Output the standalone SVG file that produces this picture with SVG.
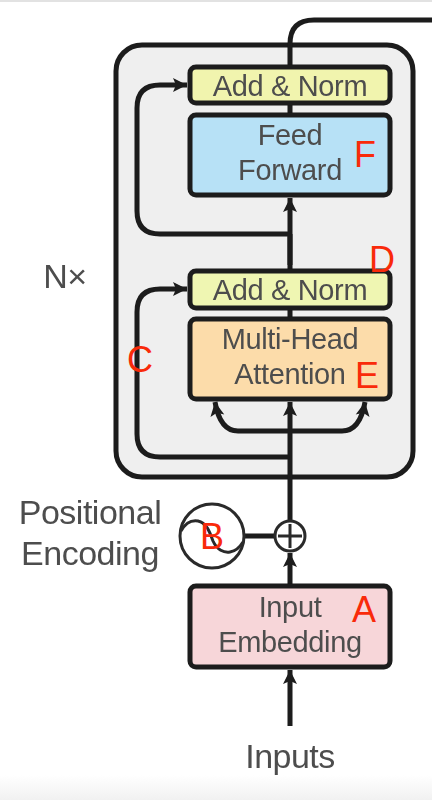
<svg xmlns="http://www.w3.org/2000/svg" width="432" height="800" viewBox="0 0 432 800">
<style>
.box{stroke:#1c1c1c;stroke-width:5}
.ln{fill:none;stroke:#1c1c1c;stroke-width:5}
.thin{fill:none;stroke:#2a2a2a;stroke-width:3}
.t{font-family:"Liberation Sans",Arial,sans-serif;font-size:29px;fill:#4d4d4d;text-anchor:middle;letter-spacing:-.35px}
.o{font-size:34px;letter-spacing:-.5px}
.soft{filter:url(#soft)}
.r{font-family:"Liberation Sans",Arial,sans-serif;font-size:36px;fill:#f92a0a;text-anchor:middle}
</style>
<defs>
<filter id="soft" x="-10%" y="-10%" width="120%" height="120%"><feGaussianBlur stdDeviation="0.7"/></filter>
<marker id="a" markerUnits="userSpaceOnUse" markerWidth="16" markerHeight="16" refX="14" refY="8" orient="auto"><path d="M0 1L14 8L0 15L3 8Z" fill="#1c1c1c"/></marker>
<linearGradient id="fade" x1="0" y1="0" x2="0" y2="1"><stop offset="0" stop-color="#fff"/><stop offset="1" stop-color="#f1f1f1"/></linearGradient>
</defs>
<rect width="432" height="800" fill="#fff"/>
<rect width="432" height="2" fill="#e2e2e2"/>
<rect y="775" width="432" height="25" fill="url(#fade)"/>
<g id="nx-block" class="soft"><rect x="116" y="45" width="297" height="432" rx="26" fill="#efefef" stroke="#1c1c1c" stroke-width="5"/></g>
<g id="connectors" class="soft">
<path class="ln" d="M290 67V44Q290 20 314 20H432"/>
<path class="ln" d="M290 103V115"/>
<path class="ln" marker-end="url(#a)" d="M290 265V198"/>
<path class="ln" d="M290 234V271"/>
<path class="ln" marker-end="url(#a)" d="M290 234H160Q137 234 137 211V108Q137 85 160 85H187"/>
<path class="ln" d="M290 308V318"/>
<path class="ln" marker-end="url(#a)" d="M290 521V402"/>
<path class="ln" marker-end="url(#a)" d="M290 457H160Q137 457 137 434V312Q137 289 160 289H187"/>
<path class="ln" marker-end="url(#a)" d="M290 431H238Q220 431 215 402"/>
<path class="ln" marker-end="url(#a)" d="M290 431H342Q360 431 365 402"/>
<path class="ln" marker-end="url(#a)" d="M290 586V553"/>
<path class="ln" marker-end="url(#a)" d="M290 726V670"/>
<path class="ln" d="M244 536H275"/>
</g>
<g id="add-norm-top" class="soft"><rect class="box" x="190" y="67" width="200" height="36" rx="6" fill="#f1f4ae"/><text class="t" x="290" y="96">Add &amp; Norm</text></g>
<g id="feed-forward" class="soft"><rect class="box" x="190" y="115" width="200" height="80" rx="6" fill="#b7e1f6"/><text class="t" x="290" y="145">Feed</text><text class="t" x="290" y="180">Forward</text></g>
<g id="add-norm-bottom" class="soft"><rect class="box" x="190" y="271" width="200" height="37" rx="6" fill="#eff6b2"/><text class="t" x="290" y="300">Add &amp; Norm</text></g>
<g id="multi-head" class="soft"><rect class="box" x="190" y="319" width="200" height="80" rx="6" fill="#fcdcaa"/><text class="t" x="290" y="349">Multi-Head</text><text class="t" x="290" y="384">Attention</text></g>
<g id="input-embedding" class="soft"><rect class="box" x="190" y="586" width="200" height="81" rx="6" fill="#f7d6d9"/><text class="t" x="290" y="617">Input</text><text class="t" x="290" y="652">Embedding</text></g>
<g id="positional-encoding" class="soft">
<circle class="thin" cx="212" cy="536" r="32" fill="#fff"/>
<path class="thin" d="M181 531C186 522 192 520 198 521C207 523 210 533 213 541C217 550 224 553 230 552C236 551 240 547 243 542"/>
<text class="t o" x="90" y="524">Positional</text><text class="t o" x="90" y="565">Encoding</text>
</g>
<g id="add" class="soft"><circle class="thin" cx="290" cy="536" r="15" fill="#fff"/><path class="thin" d="M290 524V548M278 536H302"/></g>
<g id="labels-plain" class="soft"><text class="t o" x="65" y="288">N×</text><text class="t o" x="290" y="768">Inputs</text></g>
<g id="letters">
<text class="r" x="364" y="622">A</text><text class="r" x="212" y="549">B</text><text class="r" x="140" y="372">C</text><text class="r" x="382" y="272">D</text><text class="r" x="367" y="388">E</text><text class="r" x="365" y="167">F</text>
</g>
</svg>
